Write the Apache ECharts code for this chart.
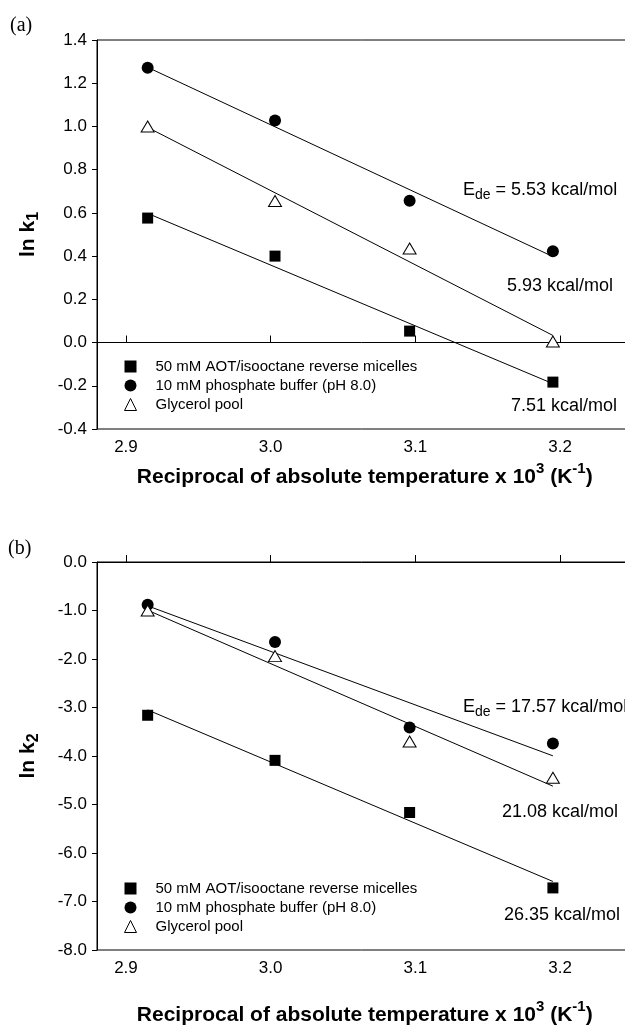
<!DOCTYPE html>
<html>
<head>
<meta charset="utf-8">
<script src="https://cdn.jsdelivr.net/npm/echarts@6/dist/echarts.min.js"></script>
<style>
  html, body { margin: 0; padding: 0; background: #fff; }
  #chart { width: 625px; height: 1028px; }
</style>
</head>
<body>
<div id="chart"></div>
<script>
// 1000/T (K^-1) for 70, 60, 50, 40 C
const invTemp = [2.915, 3.003, 3.096, 3.195];

// (a) ln k1
const k1Aot = [0.576, 0.40, 0.053, -0.183];
const k1Buffer = [1.272, 1.027, 0.656, 0.422];
const k1Glycerol = [1.0, 0.655, 0.435, 0.005];

// (b) ln k2
const k2Aot = [-3.16, -4.09, -5.165, -6.72];
const k2Buffer = [-0.88, -1.65, -3.41, -3.74];
const k2Glycerol = [-1.0, -1.94, -3.70, -4.45];

const seriesNames = [
  '50 mM AOT/isooctane reverse micelles',
  '10 mM phosphate buffer (pH 8.0)',
  'Glycerol pool',
];
const xTicks = [2.9, 3.0, 3.1, 3.2];
// E_de labels, order: buffer, glycerol, AOT
const energiesA = ['5.53', '5.93', '7.51'];
const energiesB = ['17.57', '21.08', '26.35'];

const FONT = '"Liberation Sans", Arial, sans-serif';

// least squares line between first and last x
function fitLine(xs, ys) {
  const n = xs.length;
  const mx = xs.reduce((a, b) => a + b) / n;
  const my = ys.reduce((a, b) => a + b) / n;
  let sxy = 0;
  let sxx = 0;
  xs.forEach((x, i) => {
    sxy += (x - mx) * (ys[i] - my);
    sxx += (x - mx) * (x - mx);
  });
  const b = sxy / sxx;
  return [xs[0], xs[n - 1]].map(x => [x, my + b * (x - mx)]);
}

const markers = [
  { symbol: 'rect', symbolSize: 11, itemStyle: { color: '#000', opacity: 1 } },
  { symbol: 'circle', symbolSize: 12, itemStyle: { color: '#000', opacity: 1 } },
  {
    symbol: 'triangle',
    symbolSize: [13, 11],
    itemStyle: { color: '#fff', borderColor: '#000', borderWidth: 1, opacity: 1 },
  },
];

const panels = [
  [k1Aot, k1Buffer, k1Glycerol],
  [k2Aot, k2Buffer, k2Glycerol],
];

const series = [];
panels.forEach((sets, p) => {
  sets.forEach(ys => {
    series.push({
      type: 'line',
      xAxisIndex: p,
      yAxisIndex: p,
      data: fitLine(invTemp, ys),
      symbol: 'none',
      silent: true,
      lineStyle: { color: '#000', width: 1 },
      z: 2,
    });
  });
  sets.forEach((ys, i) => {
    series.push(Object.assign({
      type: 'scatter',
      name: seriesNames[i],
      xAxisIndex: p,
      yAxisIndex: p,
      data: ys.map((y, j) => [invTemp[j], y]),
      z: 3,
    }, markers[i]));
  });
});

const xTitle = '{b|Reciprocal of absolute temperature x 10}{p|3}{b| (K}{p|-1}{b|)}';
const xTitleRich = {
  b: { fontSize: 21, fontWeight: 'bold', fontFamily: FONT, color: '#000' },
  p: { fontSize: 15, fontWeight: 'bold', fontFamily: FONT, color: '#000', padding: [0, 0, 18, 0] },
};

const xAxes = [32, 49].map((gap, p) => ({
  type: 'value',
  gridIndex: p,
  min: 2.88,
  max: 3.25,
  name: xTitle,
  nameLocation: 'middle',
  nameGap: gap,
  nameTextStyle: { rich: xTitleRich },
  axisLine: { lineStyle: { color: '#000', width: 1 } },
  axisTick: { inside: true, length: 7, customValues: xTicks, lineStyle: { color: '#000' } },
  axisLabel: {
    customValues: xTicks,
    formatter: v => v.toFixed(1),
    fontSize: 17,
    fontFamily: FONT,
    color: '#000',
    margin: 10,
  },
  splitLine: { show: false },
}));

const yRanges = [[-0.4, 1.4, 0.2], [-8, 0, 1]];
const yAxes = yRanges.map(([min, max, interval], p) => ({
  type: 'value',
  gridIndex: p,
  min,
  max,
  interval,
  name: '{b|ln k}{s|' + (p + 1) + '}',
  nameLocation: 'middle',
  nameRotate: 90,
  nameGap: 55,
  nameTextStyle: {
    rich: {
      b: { fontSize: 21, fontWeight: 'bold', fontFamily: FONT, color: '#000' },
      s: { fontSize: 16, fontWeight: 'bold', fontFamily: FONT, color: '#000', padding: [12, 0, 0, 0] },
    },
  },
  axisLine: { show: true, lineStyle: { color: '#000', width: 1 } },
  axisTick: { show: true, length: 5, lineStyle: { color: '#000' } },
  axisLabel: {
    formatter: v => v.toFixed(1),
    fontSize: 17,
    fontFamily: FONT,
    color: '#000',
    margin: 10,
  },
  splitLine: { show: false },
}));

const annRich = {
  m: { fontSize: 18, fontFamily: FONT, fill: '#000' },
  s: { fontSize: 14, fontFamily: FONT, fill: '#000', padding: [10, 0, 0, 0] },
};
function annotation(x, y, label, withName) {
  const text = withName ? '{m|E}{s|de}{m| = ' + label + ' kcal/mol}' : '{m|' + label + ' kcal/mol}';
  return {
    type: 'text',
    x,
    y,
    style: { text, rich: annRich, verticalAlign: 'middle', align: 'left', fill: '#000' },
  };
}

const graphic = [
  { type: 'text', x: 10, y: 26, style: { text: '(a)', font: '20px "Liberation Serif", serif', fill: '#000', verticalAlign: 'middle' } },
  { type: 'text', x: 8, y: 549, style: { text: '(b)', font: '20px "Liberation Serif", serif', fill: '#000', verticalAlign: 'middle' } },
  annotation(463, 190, energiesA[0], true),
  annotation(507, 286, energiesA[1]),
  annotation(511, 406, energiesA[2]),
  annotation(463, 707, energiesB[0], true),
  annotation(502, 812, energiesB[1]),
  annotation(504, 915, energiesB[2]),
];

const chart = echarts.init(document.getElementById('chart'));
chart.setOption({
  animation: false,
  backgroundColor: '#fff',
  grid: [
    { left: 97, top: 40, width: 535.5, height: 389, show: true, borderColor: '#000', borderWidth: 1, outerBoundsMode: 'none' },
    { left: 97, top: 562, width: 535.5, height: 388, show: true, borderColor: '#000', borderWidth: 1, outerBoundsMode: 'none' },
  ],
  legend: [354, 876].map(top => ({
    data: seriesNames,
    orient: 'vertical',
    left: 119,
    top,
    itemWidth: 12,
    itemHeight: 12,
    itemGap: 4,
    selectedMode: false,
    itemStyle: { borderWidth: 1 },
    textStyle: { fontSize: 15, fontFamily: FONT, color: '#000', padding: [0, 0, 0, 14] },
  })),
  xAxis: xAxes,
  yAxis: yAxes,
  series,
  graphic,
});
</script>
</body>
</html>
